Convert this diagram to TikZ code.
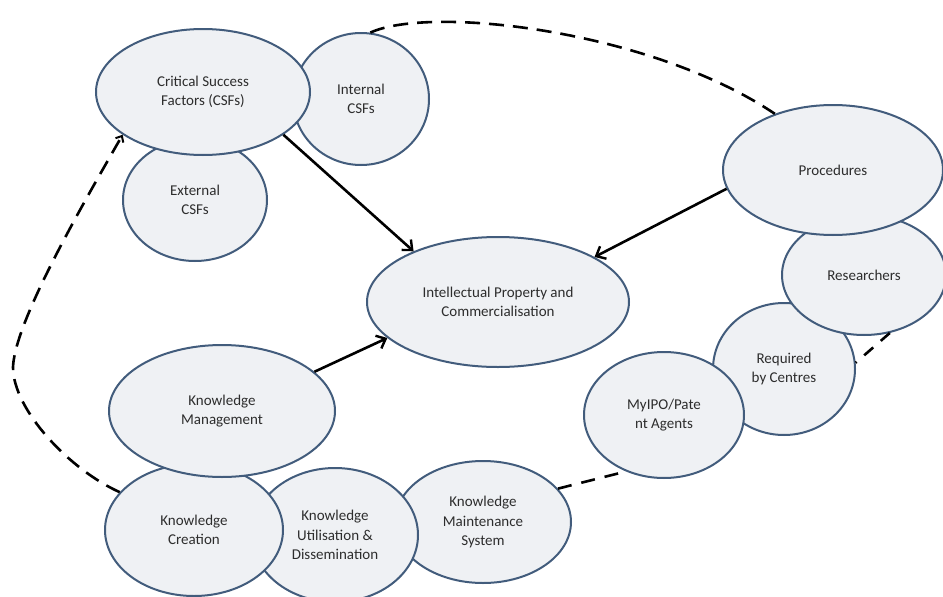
\documentclass[tikz,border=0pt]{standalone}
\usepackage{fontspec}
\setmainfont{Carlito}
\usetikzlibrary{shapes.geometric,arrows.meta,calc}
\definecolor{ellfill}{RGB}{239,241,244}
\definecolor{elldraw}{RGB}{66,92,124}
\definecolor{txt}{RGB}{45,45,45}
\tikzset{
  bub/.style={ellipse, draw=elldraw, line width=2pt, fill=ellfill, inner sep=0pt,
    align=center, text=txt, font=\fontsize{15}{19.5}\selectfont},
  solidarrow/.style={line width=2.6pt, -{Straight Barb[length=8pt,width=14pt,line width=2.4pt]}},
  dashline/.style={line width=2.6pt, dash pattern=on 15pt off 9pt},
}
\begin{document}
\begin{tikzpicture}[x=1pt,y=-1pt]
\useasboundingbox (0,0) rectangle (943,597);
% top-left cluster
\node[bub, minimum width=136pt, minimum height=132pt] (int) at (361,99) {Internal\\CSFs};
\node[bub, minimum width=144pt, minimum height=122pt] (ext) at (195,200) {External\\CSFs};
\node[bub, minimum width=214pt, minimum height=126pt] (csf) at (203,92) {Critical Success\\Factors (CSFs)};
% centre
\node[bub, minimum width=262pt, minimum height=130pt] (ip) at (498,302) {Intellectual Property and\\Commercialisation};
% right cluster
\node[bub, minimum width=142pt, minimum height=132pt] (req) at (784,369) {Required\\by Centres};
\node[bub, minimum width=160pt, minimum height=126pt] (myipo) at (664,415) {MyIPO/Pate\\nt Agents};
\node[bub, minimum width=164pt, minimum height=120pt] (res) at (864,275) {Researchers};
\node[bub, minimum width=220pt, minimum height=130pt] (proc) at (833,170) {Procedures};
% bottom cluster
\node[bub, minimum width=176pt, minimum height=122pt] (kms) at (483,522) {Knowledge\\Maintenance\\System};
\node[bub, minimum width=166pt, minimum height=134pt] (kud) at (335,535) {Knowledge\\Utilisation \&\\Dissemination};
\node[bub, minimum width=178pt, minimum height=132pt] (kc) at (194,530) {Knowledge\\Creation};
\node[bub, minimum width=226pt, minimum height=132pt] (km) at (222,411) {Knowledge\\Management};
% solid arrows
\draw[solidarrow] (csf.-28.6) -- (ip.149.8);
\draw[solidarrow] (proc.190) -- (ip.25);
\draw[solidarrow] (km.23.4) -- (ip.198.8);
% dashed connectors
\coordinate (lm) at (13,367);
\draw[dashline, -{Straight Barb[length=5pt,width=9pt,line width=2pt]}] (kc.153.7) .. controls (70,470) and (13,410) .. (lm)
  .. controls (15,320) and (87,197) .. (csf.208.7);
\draw[dashline] (int.82) .. controls (430,5) and (650,30) .. (proc.136);
\draw[dashline, dash pattern=on 14pt off 10pt] (kms.24.6) -- (myipo.236);
\draw[dashline, dash pattern=on 12pt off 10pt] (res.294) -- (req.5);
\end{tikzpicture}
\end{document}
